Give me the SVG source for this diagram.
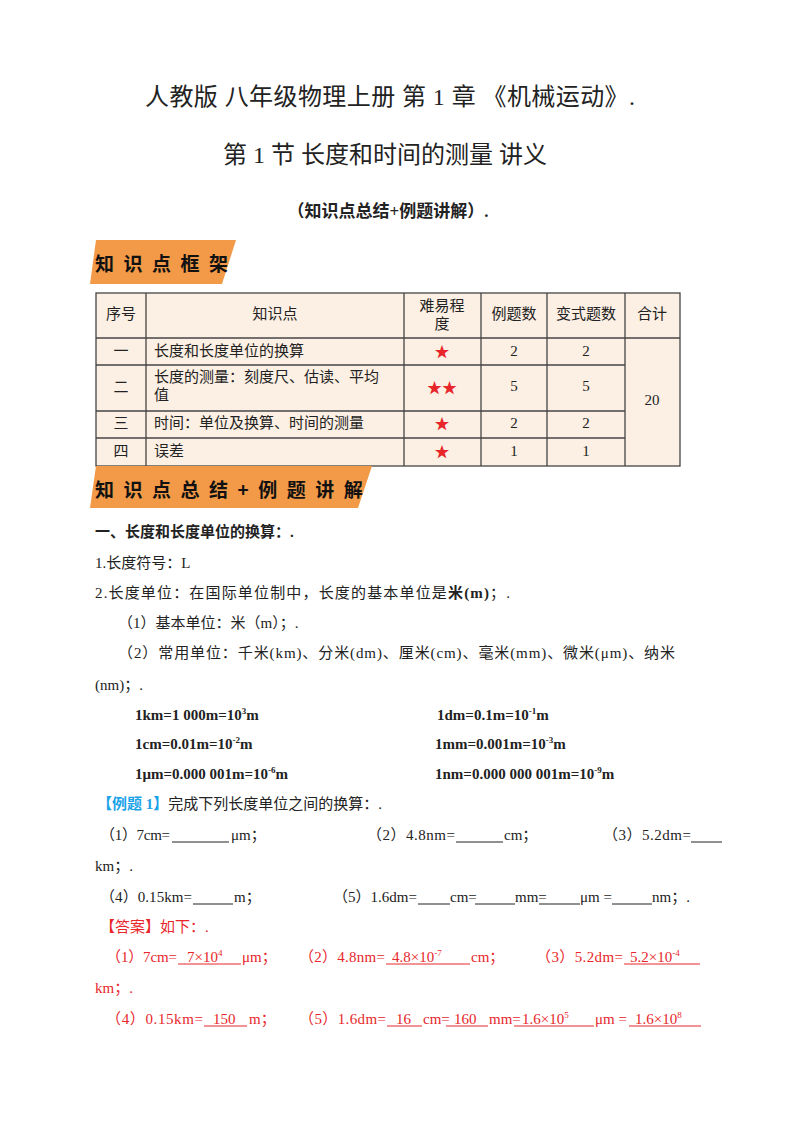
<svg xmlns="http://www.w3.org/2000/svg" width="800" height="1132" viewBox="0 0 800 1132">
<style>
text{font-family:"Liberation Serif","Noto Sans CJK SC",serif;font-size:15px;fill:#222}
.t{font-size:24px;text-anchor:middle}
.b{font-weight:bold}
.ban{font-family:"Noto Sans CJK SC",sans-serif;font-weight:bold;font-size:19px;fill:#111;letter-spacing:9.5px}
.c{text-anchor:middle}
.r{fill:#e8262a}
.blue{fill:#1aa3e8;font-weight:bold}
.grid line{stroke:#444;stroke-width:1.3}
.s{font-size:9px}
.u{stroke:#222;stroke-width:1}
.ur{stroke:#e8262a;stroke-width:1}
</style>
<rect width="800" height="1132" fill="#fff"/>
<text class="t" x="390" y="105" textLength="490">人教版 八年级物理上册 第 1 章 《机械运动》.</text>
<text class="t" x="385" y="163">第 1 节 长度和时间的测量 讲义</text>
<text class="b c" x="388" y="217" style="font-size:17px">（知识点总结+例题讲解）.</text>
<g id="banner1"><polygon points="96,240 236,240 222,284 90,284" fill="#f29a48"/><text class="ban" x="95" y="271">知识点框架</text></g>
<g id="table">
<rect x="96" y="293" width="584" height="173" fill="#fcefe3"/>
<g class="grid">
<rect x="96" y="293" width="584" height="173" fill="none" stroke="#444" stroke-width="1.3"/>
<line x1="96" y1="338" x2="680" y2="338"/><line x1="96" y1="365" x2="625" y2="365"/><line x1="96" y1="411" x2="625" y2="411"/><line x1="96" y1="438" x2="625" y2="438"/>
<line x1="146" y1="293" x2="146" y2="466"/><line x1="404" y1="293" x2="404" y2="466"/><line x1="481" y1="293" x2="481" y2="466"/><line x1="547" y1="293" x2="547" y2="466"/><line x1="625" y1="293" x2="625" y2="466"/>
</g>
<text class="c" x="121" y="319">序号</text><text class="c" x="275" y="319">知识点</text><text class="c" x="442" y="311">难易程</text><text class="c" x="442" y="329">度</text><text class="c" x="514" y="319">例题数</text><text class="c" x="586" y="319">变式题数</text><text class="c" x="652" y="319">合计</text>
<text class="c" x="121" y="356">一</text><text x="154" y="356">长度和长度单位的换算</text><text class="c r" x="442" y="357">★</text><text class="c" x="514" y="356">2</text><text class="c" x="586" y="356">2</text>
<text class="c" x="121" y="392">二</text><text x="154" y="382">长度的测量：刻度尺、估读、平均</text><text x="154" y="400">值</text><text class="c r" x="442" y="393">★★</text><text class="c" x="514" y="391">5</text><text class="c" x="586" y="391">5</text>
<text class="c" x="121" y="428">三</text><text x="154" y="428">时间：单位及换算、时间的测量</text><text class="c r" x="442" y="429">★</text><text class="c" x="514" y="428">2</text><text class="c" x="586" y="428">2</text>
<text class="c" x="121" y="456">四</text><text x="154" y="456">误差</text><text class="c r" x="442" y="457">★</text><text class="c" x="514" y="456">1</text><text class="c" x="586" y="456">1</text>
<text class="c" x="652" y="405">20</text>
</g>
<g id="banner2"><polygon points="96,466 372,466 358,508 90,508" fill="#f29a48"/><text class="ban" x="95" y="497">知识点总结+例题讲解</text></g>
<text class="b" x="95" y="537">一、长度和长度单位的换算：.</text>
<text x="95" y="568">1.长度符号：L</text>
<text x="95" y="598" textLength="415">2.长度单位：在国际单位制中，长度的基本单位是<tspan class="b">米(m)</tspan>；.</text>
<text x="118" y="628">（1）基本单位：米（m）；.</text>
<text x="118" y="658" textLength="557">（2）常用单位：千米(km)、分米(dm)、厘米(cm)、毫米(mm)、微米(μm)、纳米</text>
<text x="95" y="690">(nm)；.</text>
<text class="b" x="135" y="720">1km=1 000m=10<tspan class="s" dy="-6">3</tspan><tspan dy="6">m</tspan></text>
<text class="b" x="437" y="720">1dm=0.1m=10<tspan class="s" dy="-6">-1</tspan><tspan dy="6">m</tspan></text>
<text class="b" x="135" y="749">1cm=0.01m=10<tspan class="s" dy="-6">-2</tspan><tspan dy="6">m</tspan></text>
<text class="b" x="435" y="749">1mm=0.001m=10<tspan class="s" dy="-6">-3</tspan><tspan dy="6">m</tspan></text>
<text class="b" x="135" y="779">1μm=0.000 001m=10<tspan class="s" dy="-6">-6</tspan><tspan dy="6">m</tspan></text>
<text class="b" x="435" y="779">1nm=0.000 000 001m=10<tspan class="s" dy="-6">-9</tspan><tspan dy="6">m</tspan></text>
<text x="97" y="809"><tspan class="blue">【例题 1】</tspan>完成下列长度单位之间的换算：.</text>
<g id="q">
<text x="100" y="840" textLength="70">（1）7cm=</text><text x="231" y="840">μm；</text><line class="u" x1="172" y1="842" x2="229" y2="842"/>
<text x="367" y="840" textLength="88">（2）4.8nm=</text><text x="504" y="840">cm；</text><line class="u" x1="456" y1="842" x2="503" y2="842"/>
<text x="603" y="840" textLength="88">（3）5.2dm=</text><line class="u" x1="691" y1="842" x2="722" y2="842"/>
<text x="95" y="871">km；.</text>
<text x="100" y="902" textLength="92">（4）0.15km=</text><text x="234" y="902">m；</text><line class="u" x1="193" y1="904" x2="233" y2="904"/>
<text x="333" y="902" textLength="84">（5）1.6dm=</text><text x="450" y="902">cm=</text><text x="515" y="902">mm=</text><text x="580" y="902">μm =</text><text x="652" y="902">nm；.</text>
<line class="u" x1="418" y1="904" x2="450" y2="904"/><line class="u" x1="475" y1="904" x2="515" y2="904"/><line class="u" x1="539" y1="904" x2="580" y2="904"/><line class="u" x1="612" y1="904" x2="652" y2="904"/>
</g>
<g id="ans">
<text class="r" x="100" y="932">【答案】如下：.</text>
<text class="r" x="106" y="962" textLength="71">（1）7cm=</text><text class="r" x="187" y="962">7×10<tspan class="s r" dy="-6">4</tspan></text><text class="r" x="242" y="962">μm；</text><line class="ur" x1="178" y1="964" x2="241" y2="964"/>
<text class="r" x="299" y="962" textLength="86">（2）4.8nm=</text><text class="r" x="392" y="962">4.8×10<tspan class="s r" dy="-6">-7</tspan></text><text class="r" x="471" y="962">cm；</text><line class="ur" x1="386" y1="964" x2="470" y2="964"/>
<text class="r" x="536" y="962" textLength="87">（3）5.2dm=</text><text class="r" x="630" y="962">5.2×10<tspan class="s r" dy="-6">-4</tspan></text><line class="ur" x1="624" y1="964" x2="700" y2="964"/>
<text class="r" x="95" y="993">km；.</text>
<text class="r" x="106" y="1024" textLength="97">（4）0.15km=</text><text class="r" x="213" y="1024">150</text><text class="r" x="249" y="1024">m；</text><line class="ur" x1="204" y1="1026" x2="247" y2="1026"/>
<text class="r" x="299" y="1024" textLength="87">（5）1.6dm=</text><text class="r" x="396" y="1024">16</text><text class="r" x="423" y="1024">cm=</text><text class="r" x="454" y="1024">160</text><text class="r" x="489" y="1024">mm=</text><text class="r" x="522" y="1024">1.6×10<tspan class="s r" dy="-6">5</tspan></text><text class="r" x="595" y="1024">μm =</text><text class="r" x="635" y="1024">1.6×10<tspan class="s r" dy="-6">8</tspan></text>
<line class="ur" x1="387" y1="1026" x2="422" y2="1026"/><line class="ur" x1="446" y1="1026" x2="488" y2="1026"/><line class="ur" x1="514" y1="1026" x2="594" y2="1026"/><line class="ur" x1="629" y1="1026" x2="701" y2="1026"/>
</g>
</svg>
